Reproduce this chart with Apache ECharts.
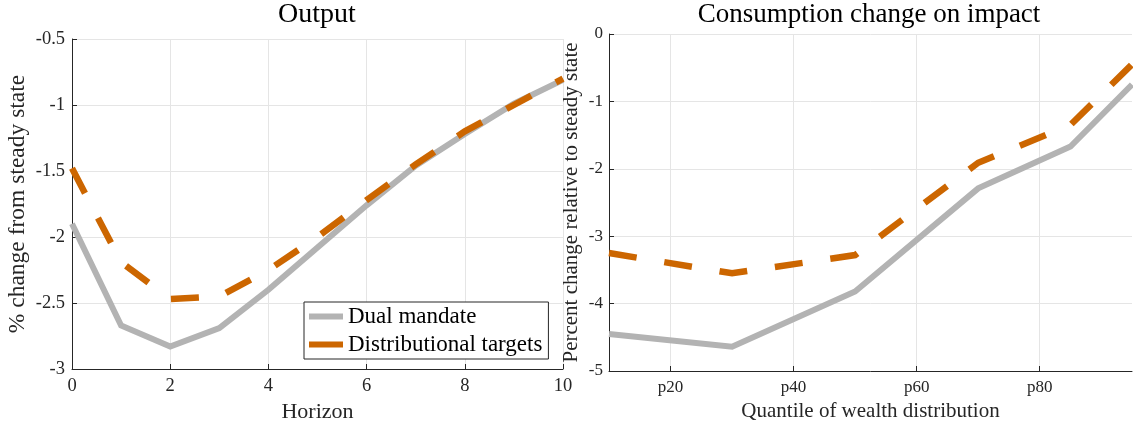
<!DOCTYPE html>
<html>
<head>
<meta charset="utf-8">
<script src="https://cdn.jsdelivr.net/npm/echarts@6/dist/echarts.min.js"></script>
<style>
html, body { margin: 0; padding: 0; background: #fff; }
#chart { width: 1133px; height: 423px; }
</style>
</head>
<body>
<div id="chart"></div>
<script>
// left panel: output response by horizon
var horizon = [0, 1, 2, 3, 4, 5, 6, 7, 8, 9, 10];
var outputDual = [-1.90, -2.67, -2.83, -2.69, -2.40, -2.08, -1.76, -1.46, -1.22, -0.99, -0.81];
var outputDist = [-1.48, -2.19, -2.47, -2.45, -2.25, -2.00, -1.72, -1.45, -1.20, -1.00, -0.80];

// right panel: consumption change by wealth quantile
var quantile = [10, 30, 50, 70, 85, 95];
var consDual = [-4.45, -4.64, -3.82, -2.29, -1.67, -0.75];
var consDist = [-3.25, -3.55, -3.28, -1.91, -1.35, -0.45];
var quantileTicks = [20, 40, 60, 80];

var FONT = 'Liberation Serif';
var GRAY = '#b3b3b3';
var ORANGE = '#cc6600';
var AXIS = '#262626';
var GRID = '#e5e5e5';

function pairs(xs, ys) {
    return xs.map(function (x, i) { return [x, ys[i]]; });
}

function axisBase(tickSize, nameSize) {
    return {
        axisLine: { show: true, onZero: false, lineStyle: { color: AXIS, width: 1 } },
        axisTick: { show: true, inside: true, length: 5, lineStyle: { color: AXIS } },
        splitLine: { show: true, lineStyle: { color: GRID, width: 1 } },
        axisLabel: { color: AXIS, fontFamily: FONT, fontSize: tickSize },
        nameTextStyle: { color: AXIS, fontFamily: FONT, fontSize: nameSize }
    };
}

var chart = echarts.init(document.getElementById('chart'));

var x0 = axisBase(18.5, 22);
x0.gridIndex = 0; x0.type = 'value'; x0.min = 0; x0.max = 10; x0.interval = 2;
x0.name = 'Horizon'; x0.nameLocation = 'middle'; x0.nameGap = 29;
x0.axisLabel.margin = 8;

var x1 = axisBase(17, 21);
x1.gridIndex = 1; x1.type = 'value'; x1.min = 10; x1.max = 95;
x1.name = 'Quantile of wealth distribution'; x1.nameLocation = 'middle'; x1.nameGap = 28;
x1.axisTick.customValues = quantileTicks;
x1.axisLabel.customValues = quantileTicks;
x1.axisLabel.margin = 8;
x1.axisLabel.formatter = function (v) { return 'p' + v; };

var y0 = axisBase(18.5, 23.5);
y0.gridIndex = 0; y0.type = 'value'; y0.min = -3; y0.max = -0.5; y0.interval = 0.5;
y0.name = '% change from steady state'; y0.nameLocation = 'middle'; y0.nameRotate = 90; y0.nameGap = 42;
y0.axisLabel.margin = 7;

var y1 = axisBase(17, 21);
y1.gridIndex = 1; y1.type = 'value'; y1.min = -5; y1.max = 0; y1.interval = 1;
y1.name = 'Percent change relative to steady state'; y1.nameLocation = 'middle'; y1.nameRotate = 90; y1.nameGap = 27;
y1.axisLabel.margin = 6;

function lineSeries(name, idx, data, color, dashed) {
    return {
        name: name,
        type: 'line',
        xAxisIndex: idx,
        yAxisIndex: idx,
        data: data,
        showSymbol: false,
        symbol: 'none',
        animation: false,
        clip: false,
        itemStyle: { color: color },
        lineStyle: {
            color: color,
            width: dashed ? 6.5 : 6,
            type: dashed ? [28, 28] : 'solid',
            cap: 'butt',
            join: 'miter'
        },
        z: dashed ? 3 : 2
    };
}

var option = {
    animation: false,
    backgroundColor: '#fff',
    title: [
        { text: 'Output', left: 317, top: 1, textAlign: 'center', padding: 0,
          textStyle: { fontFamily: FONT, fontSize: 28, fontWeight: 'normal', color: '#000' } },
        { text: 'Consumption change on impact', left: 869, top: 1, textAlign: 'center', padding: 0,
          textStyle: { fontFamily: FONT, fontSize: 27, fontWeight: 'normal', color: '#000' } }
    ],
    legend: {
        left: 304,
        top: 302,
        orient: 'vertical',
        icon: 'rect',
        itemWidth: 34,
        itemHeight: 6,
        itemGap: 5,
        padding: [3, 6, 3, 5],
        borderColor: AXIS,
        borderWidth: 1,
        borderRadius: 0,
        backgroundColor: '#fff',
        selectedMode: false,
        textStyle: { fontFamily: FONT, fontSize: 23, color: '#000' },
        data: ['Dual mandate', 'Distributional targets']
    },
    grid: [
        { left: 72, right: 570, top: 39, bottom: 54, outerBoundsMode: 'none', containLabel: false },
        { left: 609, right: 1, top: 34, bottom: 52, outerBoundsMode: 'none', containLabel: false }
    ],
    xAxis: [x0, x1],
    yAxis: [y0, y1],
    series: [
        lineSeries('Dual mandate', 0, pairs(horizon, outputDual), GRAY, false),
        lineSeries('Distributional targets', 0, pairs(horizon, outputDist), ORANGE, true),
        lineSeries('Dual mandate', 1, pairs(quantile, consDual), GRAY, false),
        lineSeries('Distributional targets', 1, pairs(quantile, consDist), ORANGE, true)
    ]
};

chart.setOption(option);
</script>
</body>
</html>
